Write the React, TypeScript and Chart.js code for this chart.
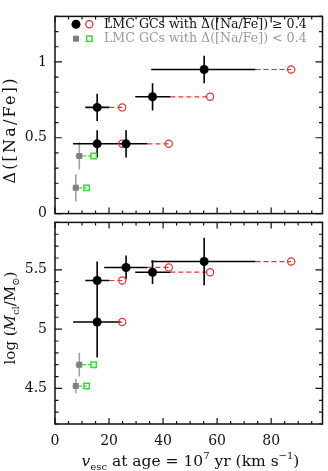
import React, { useEffect, useRef } from "react";
import { Chart, registerables } from "chart.js";

Chart.register(...registerables);

const SERIF = '"DejaVu Serif", serif';
const INK = "#111";
const RED = "#e8322c";
const GRAY = "#808080";
const GRAY_LINE = "#a0a0a0";
const GREEN = "#33dd33";

// Clusters with Δ([Na/Fe]) ≥ 0.4: escape velocity at 10^7 yr (with range),
// the alternative escape velocity (open red circles), Na spread and mass.
const vescA = [55.2, 36.1, 15.6, 15.6, 26.3];
const vescALow = [35.6, 29.7, 11.2, 6.7, 18.2];
const vescAHigh = [74.2, 42.7, 20.1, 24.3, 34.2];
const vescAOther = [87.4, 57.4, 24.9, 24.9, 42.1];
const dNaA = [0.95, 0.77, 0.7, 0.46, 0.46];
const dNaAErr = [0.09, 0.09, 0.09, 0.09, 0.09];
const logMA = [5.57, 5.48, 5.41, 5.06, 5.52];
const logMAErr = [0.2, 0.1, 0.16, 0.3, 0.1];

// Clusters with Δ([Na/Fe]) < 0.4
const vescB = [9.0, 7.7];
const vescBLow = [7.6, 6.5];
const vescBHigh = [10.4, 8.9];
const vescBOther = [14.3, 11.7];
const dNaB = [0.38, 0.17];
const dNaBErr = [0.09, 0.09];
const logMB = [4.7, 4.52];
const logMBErr = [0.1, 0.06];

// Axes
const X_MIN = 0;
const X_MAX = 99;
const NA_MIN = 0;
const NA_MAX = 1.3;
const M_MIN = 4.2;
const M_MAX = 5.9;
const xTicks = [0, 20, 40, 60, 80];
const dNaTicks = [0, 0.5, 1];
const logMTicks = [4.5, 5, 5.5];

type Pt = { x: number | null; y: number | null };

function segments(list: number[][]): Pt[] {
  const out: Pt[] = [];
  list.forEach(([x1, y1, x2, y2]) => {
    out.push({ x: x1, y: y1 }, { x: x2, y: y2 }, { x: null, y: null });
  });
  return out;
}

function panelDatasets(yA: number[], yAErr: number[], yB: number[], yBErr: number[]) {
  const pts = (xs: number[], ys: number[]) => xs.map((x, i) => ({ x, y: ys[i] }));
  const line = (data: Pt[], color: string, width: number, dash: number[] = []) => ({
    data,
    showLine: true,
    spanGaps: false,
    borderColor: color,
    borderWidth: width,
    borderDash: dash,
    pointRadius: 0,
    pointHoverRadius: 0,
    fill: false,
  });
  return [
    {
      data: pts(vescA, yA),
      showLine: false,
      pointStyle: "circle",
      pointRadius: 4.5,
      backgroundColor: "#000",
      borderColor: "#000",
      borderWidth: 0,
    },
    {
      data: pts(vescB, yB),
      showLine: false,
      pointStyle: "rect",
      pointRadius: 4.2,
      backgroundColor: GRAY,
      borderColor: GRAY,
      borderWidth: 0,
    },
    {
      data: pts(vescAOther, yA),
      showLine: false,
      pointStyle: "circle",
      pointRadius: 3.6,
      backgroundColor: "rgba(0,0,0,0)",
      borderColor: RED,
      borderWidth: 1.2,
    },
    {
      data: pts(vescBOther, yB),
      showLine: false,
      pointStyle: "rect",
      pointRadius: 3.8,
      backgroundColor: "rgba(0,0,0,0)",
      borderColor: GREEN,
      borderWidth: 1.5,
    },
    line(segments(vescA.map((_, i) => [vescALow[i], yA[i], vescAHigh[i], yA[i]])), "#000", 1.6),
    line(segments(vescA.map((x, i) => [x, yA[i] - yAErr[i], x, yA[i] + yAErr[i]])), "#000", 1.6),
    line(segments(vescB.map((_, i) => [vescBLow[i], yB[i], vescBHigh[i], yB[i]])), GRAY_LINE, 1.6),
    line(segments(vescB.map((x, i) => [x, yB[i] - yBErr[i], x, yB[i] + yBErr[i]])), GRAY_LINE, 1.6),
    line(segments(vescA.map((_, i) => [vescAHigh[i], yA[i], vescAOther[i], yA[i]])), RED, 1.2, [5, 3]),
    line(segments(vescB.map((_, i) => [vescBHigh[i], yB[i], vescBOther[i], yB[i]])), GREEN, 1.2, [3, 2]),
  ];
}

type Run = { t: string; size: number; italic?: boolean; dy?: number };

function fontOf(r: Run) {
  return `${r.italic ? "italic " : ""}${r.size}px ${SERIF}`;
}

function drawRuns(
  ctx: CanvasRenderingContext2D,
  runs: Run[],
  x: number,
  y: number,
  rotate = false,
  spacing = 0
) {
  ctx.save();
  ctx.translate(x, y);
  if (rotate) ctx.rotate(-Math.PI / 2);
  ctx.textAlign = "left";
  ctx.textBaseline = "alphabetic";
  ctx.fillStyle = INK;
  (ctx as any).letterSpacing = `${spacing}px`;
  const widths = runs.map((r) => {
    ctx.font = fontOf(r);
    return ctx.measureText(r.t).width;
  });
  const w = widths.reduce((a, b) => a + b, 0);
  let cx = -w / 2;
  runs.forEach((r, i) => {
    ctx.font = fontOf(r);
    ctx.fillText(r.t, cx, r.dy || 0);
    cx += widths[i];
  });
  ctx.restore();
}

// Box around the plot with inward tick marks on all four sides.
const framePlugin = {
  id: "frame",
  afterDraw(chart: any, _args: any, opts: any) {
    const { ctx, chartArea } = chart;
    const { left, right, top, bottom } = chartArea;
    const xs = chart.scales.x;
    const ys = chart.scales.y;
    ctx.save();
    ctx.strokeStyle = INK;
    ctx.lineWidth = 1.2;
    ctx.beginPath();
    for (let k = 0; k * 5 <= X_MAX; k++) {
      const px = xs.getPixelForValue(k * 5);
      const len = k % 4 === 0 ? 6 : 3;
      ctx.moveTo(px, bottom);
      ctx.lineTo(px, bottom - len);
      ctx.moveTo(px, top);
      ctx.lineTo(px, top + len);
    }
    const start = Math.ceil(ys.min / opts.minor - 1e-6);
    const end = Math.floor(ys.max / opts.minor + 1e-6);
    for (let k = start; k <= end; k++) {
      const v = k * opts.minor;
      const q = v / opts.major;
      const len = Math.abs(q - Math.round(q)) < 1e-6 ? 7 : 3.5;
      const py = ys.getPixelForValue(v);
      ctx.moveTo(left, py);
      ctx.lineTo(left + len, py);
      ctx.moveTo(right, py);
      ctx.lineTo(right - len, py);
    }
    ctx.stroke();
    ctx.lineWidth = 1.5;
    ctx.strokeRect(left, top, right - left, bottom - top);
    ctx.restore();
  },
};

const topDecor = {
  id: "topDecor",
  afterDraw(chart: any) {
    const ctx: CanvasRenderingContext2D = chart.ctx;
    drawRuns(ctx, [{ t: "Δ([Na/Fe])", size: 16 }], 15, 130, true, 2.2);

    ctx.save();
    // legend row 1
    ctx.fillStyle = "#000";
    ctx.beginPath();
    ctx.arc(76, 24.3, 4.5, 0, Math.PI * 2);
    ctx.fill();
    ctx.strokeStyle = RED;
    ctx.lineWidth = 1.2;
    ctx.beginPath();
    ctx.arc(89.3, 24.3, 3.6, 0, Math.PI * 2);
    ctx.stroke();
    ctx.font = `12.6px ${SERIF}`;
    ctx.textBaseline = "middle";
    ctx.textAlign = "left";
    ctx.fillStyle = INK;
    ctx.fillText("LMC GCs with Δ([Na/Fe]) ≥ 0.4", 104, 24.3);
    // legend row 2
    ctx.fillStyle = GRAY;
    ctx.fillRect(73, 35.7, 6, 6);
    ctx.strokeStyle = GREEN;
    ctx.lineWidth = 1.5;
    ctx.strokeRect(86.6, 36, 5.4, 5.4);
    ctx.fillStyle = "#9a9a9a";
    ctx.fillText("LMC GCs with Δ([Na/Fe]) < 0.4", 104, 38.7);
    ctx.restore();
  },
};

const bottomDecor = {
  id: "bottomDecor",
  afterDraw(chart: any) {
    const ctx: CanvasRenderingContext2D = chart.ctx;
    // canvas starts 206px down the page
    drawRuns(
      ctx,
      [
        { t: "log (", size: 15 },
        { t: "M", size: 15, italic: true },
        { t: "cl", size: 10, dy: 4 },
        { t: "/M", size: 15 },
        { t: "⊙", size: 10, dy: 4 },
        { t: ")", size: 15 },
      ],
      15,
      318 - 206,
      true
    );
    drawRuns(
      ctx,
      [
        { t: "v", size: 15.5, italic: true },
        { t: "esc", size: 10, dy: 4 },
        { t: " at age = 10", size: 15.5 },
        { t: "7", size: 10, dy: -7 },
        { t: " yr (km s", size: 15.5 },
        { t: "−1", size: 10, dy: -7 },
        { t: ")", size: 15.5 },
      ],
      190.5,
      466 - 206
    );
  },
};

function yScale(min: number, max: number, ticks: number[]) {
  return {
    type: "linear" as const,
    min,
    max,
    afterBuildTicks: (s: any) => {
      s.ticks = ticks.map((value) => ({ value }));
    },
    afterFit: (s: any) => {
      s.width = 55;
    },
    grid: { display: false, drawTicks: false },
    border: { display: false },
    ticks: {
      padding: 8,
      color: INK,
      font: { family: SERIF, size: 14 },
      callback: (v: any) => String(v),
    },
  };
}

export default function App() {
  const topRef = useRef<HTMLCanvasElement | null>(null);
  const bottomRef = useRef<HTMLCanvasElement | null>(null);

  useEffect(() => {
    const common = {
      responsive: false,
      animation: false as const,
      events: [] as any[],
    };
    const top = new Chart(topRef.current!, {
      type: "scatter",
      data: { datasets: panelDatasets(dNaA, dNaAErr, dNaB, dNaBErr) as any },
      options: {
        ...common,
        layout: { padding: { top: 7, right: 3, bottom: 14, left: 0 } },
        plugins: {
          legend: { display: false },
          tooltip: { enabled: false },
          frame: { minor: 0.1, major: 0.5 },
        } as any,
        scales: {
          x: { type: "linear", min: X_MIN, max: X_MAX, display: false },
          y: yScale(NA_MIN, NA_MAX, dNaTicks),
        },
      },
      plugins: [framePlugin, topDecor],
    });
    const bottom = new Chart(bottomRef.current!, {
      type: "scatter",
      data: { datasets: panelDatasets(logMA, logMAErr, logMB, logMBErr) as any },
      options: {
        ...common,
        layout: { padding: { top: 10, right: 3, bottom: 0, left: 0 } },
        plugins: {
          legend: { display: false },
          tooltip: { enabled: false },
          frame: { minor: 0.1, major: 0.5 },
        } as any,
        scales: {
          x: {
            type: "linear",
            min: X_MIN,
            max: X_MAX,
            afterBuildTicks: (s: any) => {
              s.ticks = xTicks.map((value) => ({ value }));
            },
            afterFit: (s: any) => {
              s.height = 47;
            },
            grid: { display: false, drawTicks: false },
            border: { display: false },
            ticks: {
              padding: 9,
              maxRotation: 0,
              color: INK,
              font: { family: SERIF, size: 14 },
              callback: (v: any) => String(v),
            },
          },
          y: yScale(M_MIN, M_MAX, logMTicks),
        },
      },
      plugins: [framePlugin, bottomDecor],
    });
    return () => {
      top.destroy();
      bottom.destroy();
    };
  }, []);

  return (
    <div
      style={{
        position: "fixed",
        left: 0,
        top: 0,
        width: 328,
        height: 471,
        background: "#fff",
        overflow: "hidden",
      }}
    >
      <canvas
        ref={bottomRef}
        width={328}
        height={265}
        style={{ position: "absolute", left: 0, top: 206, display: "block" }}
      />
      <canvas
        ref={topRef}
        width={328}
        height={230}
        style={{ position: "absolute", left: 0, top: 0, display: "block" }}
      />
    </div>
  );
}
